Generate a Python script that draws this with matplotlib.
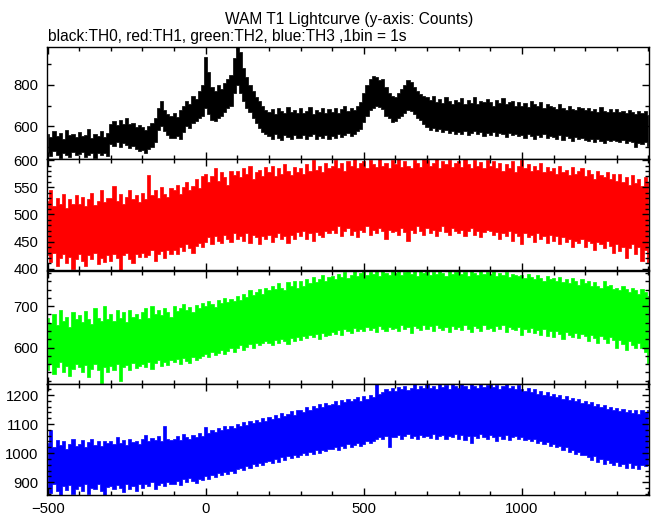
import numpy as np
import matplotlib
matplotlib.use('Agg')
import matplotlib.pyplot as plt
from matplotlib.ticker import MultipleLocator

plt.rcParams['font.family'] = ['Liberation Sans', 'DejaVu Sans']

# time grid of the envelope samples (s), one sample per 10 s
time_s = np.arange(-500, 1401, 10)

# upper / lower edge of each light curve per 10 s
th0_hi = [560, 548, 575, 552, 565, 540, 580, 555, 562, 548,
          570, 550, 558, 585, 545, 562, 552, 575, 548, 565,
          610, 625, 605, 630, 612, 640, 608, 615, 598, 605,
          595, 580, 600, 615, 640, 690, 720, 680, 660, 650,
          665, 645, 680, 700, 720, 705, 745, 730, 770, 800,
          935, 860, 790, 770, 800, 780, 810, 830, 850, 930,
          1000, 960, 880, 840, 800, 770, 740, 720, 700, 680,
          670, 685, 660, 690, 672, 665, 695, 668, 680, 662,
          688, 665, 675, 695, 660, 680, 670, 690, 665, 685,
          670, 690, 665, 685, 700, 672, 690, 680, 700, 715,
          760, 800, 830, 845, 840, 825, 830, 790, 760, 745,
          740, 760, 780, 800, 825, 815, 790, 770, 755, 745,
          740, 725, 745, 718, 730, 712, 740, 720, 705, 728,
          715, 735, 705, 725, 712, 740, 708, 720, 715, 730,
          718, 700, 725, 710, 735, 705, 715, 722, 700, 718,
          700, 712, 695, 720, 705, 698, 715, 690, 708, 700,
          695, 685, 705, 690, 680, 700, 685, 678, 695, 688,
          678, 690, 672, 685, 670, 695, 675, 668, 682, 670,
          685, 668, 675, 662, 680, 670, 660, 675, 665, 672,
          655]
th0_lo = [470, 455, 478, 462, 448, 472, 460, 452, 475, 458,
          465, 475, 450, 462, 470, 445, 468, 458, 472, 455,
          515, 505, 525, 500, 518, 510, 495, 505, 488, 480,
          485, 470, 490, 500, 525, 580, 600, 575, 555, 545,
          545, 550, 540, 570, 600, 590, 615, 625, 640, 650,
          690, 660, 630, 625, 640, 650, 670, 690, 700, 760,
          800, 760, 720, 690, 670, 640, 615, 590, 570, 560,
          550, 540, 560, 545, 535, 558, 548, 540, 555, 545,
          545, 555, 538, 550, 560, 540, 552, 545, 558, 540,
          550, 545, 560, 548, 555, 565, 550, 560, 575, 585,
          620, 650, 680, 690, 700, 695, 685, 650, 640, 620,
          625, 640, 650, 665, 680, 675, 660, 640, 630, 610,
          595, 580, 590, 575, 585, 570, 580, 565, 578, 560,
          572, 560, 575, 555, 568, 578, 560, 572, 550, 565,
          558, 570, 552, 565, 560, 548, 568, 555, 562, 550,
          555, 545, 562, 550, 540, 558, 548, 560, 545, 550,
          548, 540, 555, 535, 550, 542, 530, 548, 538, 545,
          535, 528, 540, 525, 538, 530, 520, 535, 528, 532,
          530, 522, 535, 518, 528, 525, 500, 520, 515, 525,
          505]

th1_hi = [525, 545, 515, 530, 520, 538, 512, 528, 520, 535,
          520, 532, 515, 528, 540, 518, 525, 545, 522, 530,
          530, 552, 525, 538, 520, 532, 545, 528, 535, 522,
          540, 528, 572, 535, 545, 530, 550, 538, 532, 548,
          545, 555, 538, 550, 560, 545, 552, 565, 548, 570,
          575, 560, 570, 585, 562, 578, 568, 555, 580, 572,
          580, 568, 585, 575, 590, 565, 578, 582, 570, 588,
          578, 590, 570, 585, 575, 592, 580, 572, 588, 578,
          585, 575, 592, 580, 600, 582, 590, 578, 595, 585,
          590, 600, 585, 595, 580, 598, 590, 602, 585, 595,
          598, 585, 600, 592, 588, 602, 590, 595, 585, 600,
          592, 602, 588, 598, 590, 585, 600, 595, 588, 602,
          600, 590, 595, 602, 585, 598, 592, 600, 588, 595,
          598, 588, 602, 592, 585, 600, 590, 596, 585, 600,
          590, 598, 585, 595, 580, 592, 585, 598, 578, 590,
          600, 585, 592, 580, 590, 582, 595, 578, 588, 580,
          585, 575, 590, 578, 582, 572, 588, 575, 580, 585,
          570, 582, 575, 565, 580, 572, 568, 578, 565, 575,
          562, 575, 560, 568, 555, 572, 558, 565, 552, 568,
          560]
th1_lo = [425, 412, 430, 405, 420, 428, 410, 422, 400, 418,
          428, 415, 405, 425, 418, 430, 408, 420, 412, 425,
          415, 428, 420, 398, 425, 430, 418, 410, 428, 422,
          430, 422, 425, 435, 415, 428, 432, 420, 435, 428,
          435, 428, 440, 432, 445, 438, 430, 442, 448, 440,
          450, 458, 445, 460, 452, 448, 462, 455, 450, 465,
          455, 460, 452, 465, 448, 462, 458, 445, 460, 455,
          462, 450, 458, 465, 455, 460, 448, 462, 455, 468,
          460, 470, 455, 465, 452, 468, 462, 458, 470, 465,
          472, 465, 478, 460, 470, 475, 462, 470, 458, 472,
          468, 478, 462, 472, 465, 475, 470, 455, 472, 468,
          470, 462, 475, 468, 452, 472, 465, 478, 470, 462,
          475, 465, 472, 460, 470, 478, 468, 462, 475, 470,
          465, 472, 460, 470, 475, 462, 470, 458, 468, 472,
          470, 462, 468, 455, 465, 460, 470, 452, 465, 460,
          445, 465, 458, 462, 450, 465, 455, 460, 448, 462,
          452, 460, 445, 458, 450, 455, 440, 452, 448, 455,
          440, 452, 448, 435, 450, 445, 438, 452, 442, 430,
          445, 432, 440, 420, 438, 445, 428, 440, 415, 435,
          410]

th2_hi = [672, 660, 680, 655, 690, 665, 675, 650, 685, 668,
          678, 662, 688, 670, 658, 695, 672, 665, 700, 668,
          680, 665, 690, 672, 685, 662, 692, 675, 680, 668,
          685, 695, 672, 700, 682, 690, 678, 695, 685, 675,
          700, 688, 695, 705, 690, 698, 685, 702, 695, 708,
          700, 712, 705, 698, 715, 708, 720, 710, 718, 712,
          725, 715, 730, 722, 738, 728, 735, 742, 730, 745,
          738, 750, 742, 755, 745, 740, 758, 748, 760, 745,
          762, 750, 765, 755, 770, 758, 765, 775, 760, 770,
          772, 765, 778, 770, 782, 768, 775, 785, 772, 780,
          785, 775, 782, 778, 785, 772, 785, 780, 776, 785,
          780, 785, 775, 782, 785, 778, 785, 772, 785, 780,
          785, 775, 783, 778, 785, 780, 772, 785, 778, 782,
          785, 778, 782, 772, 785, 780, 775, 785, 778, 782,
          778, 785, 772, 780, 775, 782, 770, 778, 775, 772,
          775, 768, 778, 770, 765, 775, 768, 760, 772, 765,
          768, 760, 770, 758, 765, 755, 768, 760, 752, 765,
          755, 762, 748, 758, 750, 745, 760, 748, 752, 742,
          745, 738, 750, 742, 735, 745, 738, 730, 742, 735,
          725]
th2_lo = [545, 560, 535, 552, 565, 540, 555, 530, 548, 560,
          552, 540, 558, 528, 548, 560, 545, 515, 552, 540,
          555, 545, 560, 520, 552, 558, 545, 562, 550, 555,
          560, 552, 565, 548, 562, 570, 555, 565, 558, 570,
          565, 572, 560, 575, 568, 562, 578, 570, 575, 580,
          585, 578, 590, 582, 588, 595, 585, 592, 598, 590,
          598, 605, 595, 602, 608, 600, 612, 605, 610, 615,
          612, 605, 618, 610, 620, 615, 608, 622, 615, 625,
          618, 628, 622, 630, 625, 632, 620, 635, 628, 630,
          638, 632, 642, 630, 645, 640, 635, 648, 640, 645,
          640, 650, 642, 648, 638, 652, 645, 640, 650, 646,
          648, 640, 655, 645, 650, 635, 652, 648, 642, 655,
          645, 652, 640, 655, 648, 642, 650, 638, 652, 645,
          650, 642, 655, 645, 638, 652, 648, 640, 655, 645,
          648, 640, 652, 645, 655, 638, 650, 645, 642, 650,
          630, 645, 638, 648, 635, 642, 630, 645, 628, 640,
          625, 640, 632, 620, 638, 630, 625, 635, 622, 632,
          628, 615, 630, 622, 610, 628, 620, 612, 625, 618,
          600, 618, 608, 595, 615, 605, 598, 612, 600, 590,
          560]

th3_hi = [1035, 1078, 1020, 1045, 1028, 1040, 1015, 1032, 1048, 1025,
          1030, 1045, 1022, 1038, 1050, 1028, 1040, 1025, 1042, 1035,
          1040, 1030, 1055, 1035, 1045, 1028, 1050, 1038, 1042, 1032,
          1048, 1062, 1040, 1052, 1045, 1058, 1042, 1095, 1050, 1045,
          1050, 1058, 1045, 1065, 1055, 1048, 1062, 1055, 1068, 1060,
          1090, 1070, 1080, 1072, 1085, 1078, 1092, 1082, 1095, 1088,
          1100, 1092, 1108, 1098, 1112, 1105, 1115, 1108, 1120, 1112,
          1125, 1118, 1130, 1122, 1138, 1128, 1135, 1145, 1132, 1148,
          1150, 1140, 1158, 1148, 1162, 1155, 1168, 1160, 1172, 1165,
          1170, 1178, 1165, 1182, 1175, 1188, 1178, 1185, 1192, 1180,
          1195, 1188, 1200, 1192, 1238, 1205, 1212, 1222, 1215, 1225,
          1215, 1228, 1220, 1232, 1218, 1225, 1238, 1222, 1230, 1225,
          1238, 1225, 1232, 1220, 1238, 1228, 1235, 1222, 1238, 1230,
          1225, 1238, 1230, 1222, 1238, 1232, 1225, 1238, 1228, 1235,
          1238, 1228, 1235, 1222, 1232, 1238, 1225, 1230, 1220, 1235,
          1222, 1215, 1225, 1210, 1220, 1205, 1215, 1200, 1210, 1198,
          1205, 1192, 1200, 1188, 1195, 1182, 1190, 1178, 1185, 1172,
          1180, 1168, 1175, 1162, 1170, 1158, 1165, 1152, 1160, 1150,
          1155, 1145, 1152, 1140, 1150, 1138, 1148, 1135, 1150, 1142,
          1148]
th3_lo = [880, 862, 895, 870, 855, 885, 872, 890, 860, 878,
          885, 870, 892, 858, 880, 875, 895, 868, 855, 882,
          888, 875, 890, 880, 865, 892, 878, 885, 870, 895,
          880, 895, 885, 900, 878, 890, 898, 885, 902, 892,
          895, 905, 890, 910, 900, 915, 905, 898, 912, 908,
          920, 912, 925, 918, 930, 925, 935, 928, 940, 932,
          945, 950, 942, 955, 950, 962, 955, 965, 960, 970,
          972, 965, 978, 970, 985, 975, 990, 982, 992, 985,
          995, 1000, 992, 1005, 998, 1010, 1002, 1012, 1008, 1015,
          1015, 1022, 1010, 1025, 1018, 1030, 1022, 1028, 1035, 1025,
          1030, 1040, 1035, 1042, 1048, 1055, 1050, 1060, 1020, 1055,
          1055, 1062, 1050, 1058, 1065, 1052, 1060, 1048, 1062, 1055,
          1060, 1052, 1065, 1048, 1058, 1062, 1050, 1060, 1055, 1065,
          1050, 1062, 1045, 1058, 1035, 1060, 1052, 1065, 1055, 1048,
          1062, 1055, 1040, 1058, 1050, 1062, 1045, 1055, 1060, 1050,
          1055, 1045, 1050, 1040, 1048, 1035, 1042, 1030, 1038, 1025,
          1030, 1020, 1025, 1012, 1020, 1005, 1010, 998, 1005, 992,
          995, 985, 975, 990, 970, 980, 962, 975, 965, 958,
          968, 955, 962, 948, 965, 950, 958, 945, 960, 955,
          960]

series = [
    (th0_hi, th0_lo, 'black', (441, 982), 200, 100),
    (th1_hi, th1_lo, '#ff0000', (397, 602), 50, 10),
    (th2_hi, th2_lo, '#00ff00', (513, 785), 100, 20),
    (th3_hi, th3_lo, '#0000ff', (854, 1238), 100, 20),
]

# panel rectangles in figure fractions
panel_rects = [
    (0.0721, 0.6913, 0.9233, 0.2169),
    (0.0721, 0.4748, 0.9233, 0.2165),
    (0.0721, 0.2553, 0.9233, 0.2184),
    (0.0721, 0.0379, 0.9233, 0.2165),
]

fig = plt.figure(figsize=(6.52, 5.15), dpi=100)

for i, (hi, lo, color, ylim, major, minor) in enumerate(series):
    ax = fig.add_axes(panel_rects[i])
    ax.fill_between(time_s, lo, hi, step='mid', color=color, linewidth=0.5, edgecolor=color)
    ax.set_xlim(-502, 1402)
    ax.set_ylim(*ylim)
    ax.xaxis.set_major_locator(MultipleLocator(500))
    ax.xaxis.set_minor_locator(MultipleLocator(100))
    ax.yaxis.set_major_locator(MultipleLocator(major))
    ax.yaxis.set_minor_locator(MultipleLocator(minor))
    ax.tick_params(which='both', direction='in', top=True, right=True, width=1.0,
                   labelsize=10.7, colors='black')
    ax.tick_params(which='major', length=5)
    ax.tick_params(which='minor', length=3)
    ax.tick_params(axis='y', pad=6)
    ax.tick_params(axis='x', pad=5)
    for spine in ax.spines.values():
        spine.set_linewidth(1.0)
    if i < 3:
        ax.set_xticklabels([])

fig.text(0.536, 0.962, 'WAM T1 Lightcurve (y-axis: Counts)', ha='center', va='center', fontsize=11.2)
fig.text(0.073, 0.929, 'black:TH0, red:TH1, green:TH2, blue:TH3 ,1bin = 1s',
         ha='left', va='center', fontsize=11.2)

fig.savefig('out.png', dpi=100)
